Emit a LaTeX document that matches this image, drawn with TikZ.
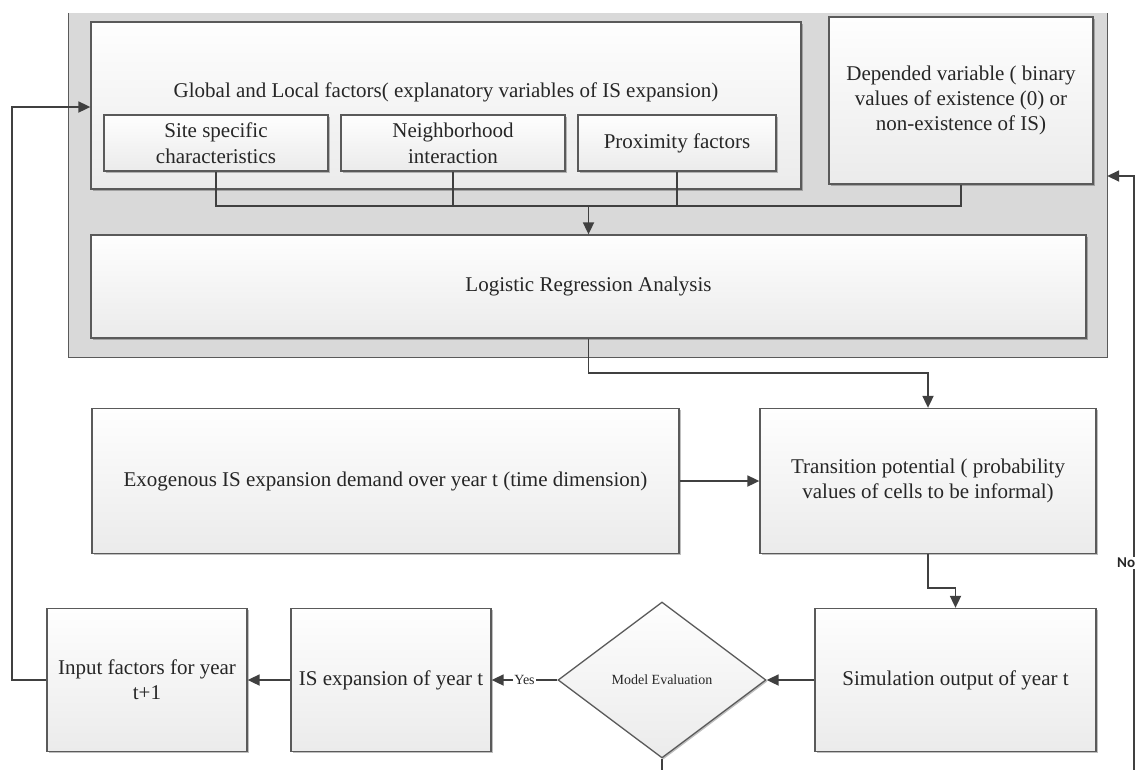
\documentclass[tikz,border=0pt]{standalone}
\usepackage{fontspec}
\setmainfont{Liberation Serif}
\newfontfamily\labelsans{Carlito}
\usetikzlibrary{arrows.meta,shapes.geometric,shadows}

\definecolor{edge}{HTML}{5A5A5A}
\definecolor{wire}{HTML}{404040}
\definecolor{panel}{HTML}{D9D9D9}
\definecolor{boxtop}{HTML}{FEFEFE}
\definecolor{boxbot}{HTML}{EBEBEB}
\definecolor{ink}{HTML}{262626}

\tikzset{
  box/.style={draw=edge, line width=1.3pt, shading=axis, top color=boxtop,
    bottom color=boxbot, inner sep=2pt, align=center, text=ink,
    font=\fontsize{21}{25}\selectfont,
    drop shadow={shadow xshift=1.5pt, shadow yshift=-1.5pt, opacity=0.25, fill=black}},
  subbox/.style={box, font=\fontsize{21}{26}\selectfont},
  decision/.style={box, diamond, inner sep=0pt, font=\fontsize{14}{16}\selectfont},
  wireline/.style={draw=wire, line width=1.8pt},
  arrowline/.style={wireline, -{Triangle[length=12pt,width=11pt]}},
  tag/.style={font=\fontsize{14}{16}\selectfont, text=ink, fill=white, inner sep=1pt}
}

\begin{document}
\begin{tikzpicture}[x=1pt, y=-1pt]
\clip (0,0) rectangle (1136,769);
\fill[white] (0,0) rectangle (1136,769);

% grey panel holding the regression stage
\node[fill=panel, minimum width=1038pt, minimum height=344pt, inner sep=0pt] (panel) at (588,185) {};
\draw[edge, line width=1.3pt] (panel.north west) -- (panel.south west) -- (panel.south east) -- (panel.north east);

% explanatory variables
\node[box, minimum width=710pt, minimum height=167pt] (global) at (446,105.5) {};
\node[font=\fontsize{21}{25}\selectfont, text=ink] (globaltitle) at (446,92) {Global and Local factors( explanatory variables of IS expansion)};
\node[subbox, minimum width=224pt, minimum height=56pt] (site) at (216,143) {Site specific\\characteristics};
\node[subbox, minimum width=224pt, minimum height=56pt] (neigh) at (453,143) {Neighborhood\\interaction};
\node[subbox, minimum width=198pt, minimum height=56pt] (prox) at (677,143) {Proximity factors};

% dependent variable
\node[box, minimum width=264pt, minimum height=167pt] (dep) at (961,100.5) {Depended variable ( binary\\values of existence (0) or\\non-existence of IS)};

% regression
\node[box, minimum width=995pt, minimum height=103pt] (logit) at (588.5,286.5) {Logistic Regression Analysis};

% demand and transition potential
\node[box, minimum width=587pt, minimum height=145pt] (exo) at (385.5,481) {Exogenous IS expansion demand over year t (time dimension)};
\node[box, minimum width=336pt, minimum height=145pt] (trans) at (928,481) {Transition potential ( probability\\values of cells to be informal)};

% simulation loop
\node[box, minimum width=281pt, minimum height=143pt] (sim) at (955.5,680) {Simulation output of year t};
\node[decision, minimum width=208pt, minimum height=156pt] (eval) at (662,680) {Model Evaluation};
\node[box, minimum width=200pt, minimum height=143pt] (isexp) at (391,680) {IS expansion of year t};
\node[box, minimum width=200pt, minimum height=143pt] (input) at (147,680) {Input factors for year\\t+1};

% bus collecting the variables
\coordinate (busR) at (961,206);
\draw[wireline] (site.south) |- (busR) -- (dep.south);
\draw[wireline] (neigh.south) -- (neigh.south |- busR);
\draw[wireline] (prox.south) -- (prox.south |- busR);
\draw[arrowline] (logit.north |- busR) -- (logit.north);

% flow through the model
\draw[arrowline] (logit.south) -- ++(0,34) -| (trans.north);
\draw[arrowline] (exo.east) -- (trans.west);
\draw[arrowline] (trans.south) -- ++(0,34) -| (sim.north);
\draw[arrowline] (sim.west) -- (eval.east);
\draw[arrowline] (eval.west) -- node[tag] (yes) {Yes} (isexp.east);
\draw[arrowline] (isexp.west) -- (input.east);

% feedback to the next year
\coordinate (loopL) at (12,107);
\draw[arrowline] (input.west) -| (loopL) -- (loopL -| global.west);

% rejected evaluation returns to the panel
\coordinate (evalOut) at (662,790);
\draw[wireline] (eval.south) -- (evalOut);
\coordinate (noBot) at (1134,790);
\coordinate (noTop) at (1134,176);
\draw[arrowline] (noBot) -- (noTop) -- (noTop -| panel.east);
\node[font=\labelsans\bfseries\fontsize{15}{17}\selectfont, text=ink, fill=white, inner sep=1pt, anchor=west] (no) at (1116,563) {No};
\end{tikzpicture}
\end{document}
